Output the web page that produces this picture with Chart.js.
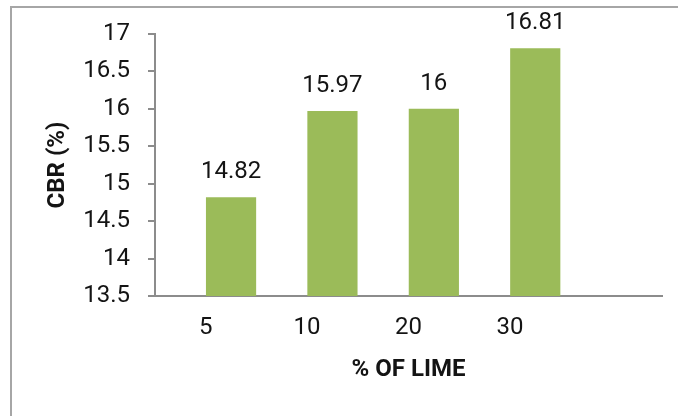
<!DOCTYPE html>
<html>
<head>
<meta charset="utf-8">
<script src="https://cdn.jsdelivr.net/npm/chart.js@4.4.0/dist/chart.umd.min.js"></script>
<style>
  html,body{margin:0;padding:0;background:#fff;}
  #wrap{position:relative;width:678px;height:416px;overflow:hidden;}
  #frame{position:absolute;left:10px;top:6px;width:700px;height:440px;border-left:2px solid #a6a6a6;border-top:2px solid #a6a6a6;box-sizing:border-box;}
  #c{position:absolute;left:0;top:0;}
</style>
</head>
<body>
<div id="wrap">
  <div id="frame"></div>
  <canvas id="c" width="678" height="416"></canvas>
</div>
<script>
// lime content (%) vs CBR
const limePct = ['5', '10', '20', '30', ''];
const cbrValues = [14.82, 15.97, 16, 16.81, null];
// empty companion series, it keeps the CBR bars in the right half of each slot
const blankSeries = [null, null, null, null, null];
const yTicks = [13.5, 14, 14.5, 15, 15.5, 16, 16.5, 17];

const FONT = 'Roboto, "Liberation Sans", Arial, sans-serif';
const AXIS_GREY = '#8c8c8c';

// value labels over each bar
const valueLabels = {
  id: 'valueLabels',
  afterDatasetsDraw(chart){
    const ctx = chart.ctx;
    const meta = chart.getDatasetMeta(1);
    ctx.save();
    ctx.font = '24px ' + FONT;
    ctx.fillStyle = '#141414';
    ctx.textAlign = 'center';
    ctx.textBaseline = 'alphabetic';
    meta.data.forEach((bar, i) => {
      const v = cbrValues[i];
      if (v == null) return;
      ctx.fillText(String(v), bar.x, bar.y - 19);
    });
    ctx.restore();
  }
};

new Chart(document.getElementById('c').getContext('2d'), {
  type: 'bar',
  data: {
    labels: limePct,
    datasets: [
      {data: blankSeries, backgroundColor: 'rgba(0,0,0,0)', categoryPercentage: 1, barPercentage: 0.99},
      {data: cbrValues, backgroundColor: '#9bbb59', categoryPercentage: 1, barPercentage: 0.99}
    ]
  },
  options: {
    responsive: false,
    animation: false,
    layout: {padding: {left: 40, top: 34, right: 16, bottom: 0}},
    plugins: {legend: {display: false}, tooltip: {enabled: false}},
    scales: {
      x: {
        grid: {display: false},
        border: {display: true, color: AXIS_GREY, width: 2},
        ticks: {
          color: '#141414',
          font: {family: FONT, size: 24},
          padding: 10,
          maxRotation: 0,
          autoSkip: false
        },
        title: {
          display: true,
          text: '% OF LIME',
          color: '#141414',
          font: {family: FONT, size: 24, weight: 'bold'},
          padding: {top: 0, bottom: 32}
        },
        afterFit(scale){ scale.height = 120; }
      },
      y: {
        min: 13.5,
        max: 17,
        afterBuildTicks(scale){ scale.ticks = yTicks.map(v => ({value: v})); },
        grid: {drawOnChartArea: false, drawTicks: true, tickLength: 7, color: AXIS_GREY, lineWidth: 2},
        border: {display: true, color: AXIS_GREY, width: 2},
        ticks: {
          color: '#141414',
          font: {family: FONT, size: 24},
          padding: 18,
          callback: v => String(v)
        },
        title: {
          display: true,
          text: 'CBR (%)',
          color: '#141414',
          font: {family: FONT, size: 24, weight: 'bold'},
          padding: {top: 4, bottom: 0}
        },
        afterFit(scale){ scale.width = 115; }
      }
    }
  },
  plugins: [valueLabels]
});
</script>
</body>
</html>
